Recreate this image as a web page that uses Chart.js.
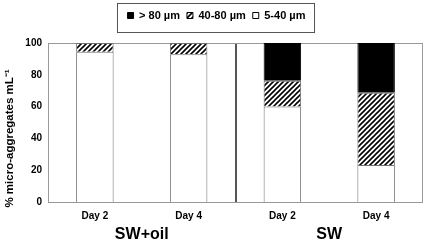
<!DOCTYPE html>
<html lang="en">
<head>
  <meta charset="UTF-8">
  <title>Micro-aggregates</title>
  <style>
    body { margin: 0; padding: 0; background: #ffffff; }
    .chart-container { width: 426px; height: 242px; }
  </style>
</head>
<body>
  <div class="chart-container">
    <canvas id="aggChart" width="426" height="242"></canvas>
  </div>

  <script src="https://cdn.jsdelivr.net/npm/chart.js"></script>
  <script>
    // values (% of micro-aggregates per size class)
    const categories = ['Day 2', 'Day 4', 'Day 2', 'Day 4'];
    const groups = ['SW+oil', 'SW'];
    const size5to40 = [94.5, 93, 60, 23.3];
    const size40to80 = [5.5, 7, 16.3, 45.4];
    const sizeOver80 = [0, 0, 23.7, 31.3];

    const font = 'Liberation Sans, Arial, sans-serif';

    // diagonal hatch pattern for the 40-80 class
    function makeHatch() {
      const s = 5;
      const c = document.createElement('canvas');
      c.width = s; c.height = s;
      const g = c.getContext('2d');
      g.fillStyle = '#ffffff';
      g.fillRect(0, 0, s, s);
      g.strokeStyle = '#000000';
      g.lineWidth = 1.6;
      g.beginPath();
      g.moveTo(0, s); g.lineTo(s, 0);
      g.moveTo(-1, 1); g.lineTo(1, -1);
      g.moveTo(s - 1, s + 1); g.lineTo(s + 1, s - 1);
      g.stroke();
      return g.createPattern(c, 'repeat');
    }
    const hatch = makeHatch();

    const LEGEND_SHIFT = 5;

    // grey frame around the plot area + box around the legend
    const framePlugin = {
      id: 'frame',
      beforeLayout(chart) {
        const lg = chart.legend;
        if (lg && !lg._fixedFit) {
          const orig = lg.fit;
          lg.fit = function () { orig.call(this); this.height = 40; };
          lg._fixedFit = true;
        }
      },
      afterLayout(chart) {
        const lg = chart.legend;
        lg.left += LEGEND_SHIFT;
        lg.right += LEGEND_SHIFT;
        (lg.legendHitBoxes || []).forEach(b => { b.left += LEGEND_SHIFT; });
      },
      beforeDatasetsDraw(chart) {
        const a = chart.chartArea;
        const ctx = chart.ctx;
        ctx.save();
        ctx.strokeStyle = '#999999';
        ctx.lineWidth = 1;
        ctx.strokeRect(a.left + 0.5, a.top + 0.5, a.right - a.left - 1, a.bottom - a.top);
        ctx.restore();
      },
      afterDraw(chart) {
        const boxes = chart.legend.legendHitBoxes;
        if (!boxes || !boxes.length) return;
        let l = Infinity, r = -Infinity;
        boxes.forEach(b => { l = Math.min(l, b.left); r = Math.max(r, b.left + b.width); });
        const ctx = chart.ctx;
        ctx.save();
        ctx.strokeStyle = '#555555';
        ctx.lineWidth = 1;
        ctx.strokeRect(Math.round(l - 11) + 0.5, 3.5, Math.round(r - l + 19), 29);
        ctx.restore();
      }
    };

    new Chart(document.getElementById('aggChart'), {
      type: 'bar',
      data: {
        labels: categories,
        datasets: [
          {
            label: '5-40 µm',
            data: size5to40,
            backgroundColor: '#ffffff',
            borderColor: '#707070',
            borderWidth: 1
          },
          {
            label: '40-80 µm',
            data: size40to80,
            backgroundColor: hatch,
            borderColor: '#707070',
            borderWidth: 1
          },
          {
            label: '> 80 µm',
            data: sizeOver80,
            backgroundColor: '#000000',
            borderColor: '#000000',
            borderWidth: 1
          }
        ]
      },
      options: {
        responsive: false,
        animation: false,
        categoryPercentage: 1,
        barPercentage: 0.4,
        layout: { padding: { top: 3, right: 3, left: 0, bottom: 0 } },
        plugins: {
          tooltip: { enabled: false },
          legend: {
            reverse: true,
            labels: {
              boxWidth: 6,
              boxHeight: 6,
              padding: 7,
              color: '#000000',
              font: { family: font, size: 11, weight: 'bold' },
              generateLabels(chart) {
                const items = Chart.defaults.plugins.legend.labels.generateLabels(chart);
                items.forEach(it => { it.strokeStyle = '#000000'; it.lineWidth = 1; });
                return items;
              }
            }
          }
        },
        scales: {
          x: {
            stacked: true,
            weight: 0,
            grid: { display: false, drawTicks: false },
            border: { display: false },
            ticks: {
              padding: 8,
              color: '#000000',
              font: { family: font, size: 10, weight: 'bold' }
            },
            afterFit(scale) { scale.height = 22; }
          },
          x2: {
            type: 'category',
            position: 'bottom',
            labels: groups,
            offset: true,
            weight: 1,
            grid: {
              display: true,
              offset: true,
              drawTicks: false,
              lineWidth: 2,
              color: ctx => ctx.index === 1 ? '#555555' : 'rgba(0,0,0,0)'
            },
            border: { display: false },
            ticks: {
              padding: 1,
              color: '#000000',
              font: { family: font, size: 16, weight: 'bold' }
            },
            afterFit(scale) { scale.height = 18; }
          },
          y: {
            stacked: true,
            min: 0,
            max: 100,
            grid: { display: false, drawTicks: false },
            border: { display: false },
            ticks: {
              stepSize: 20,
              padding: 6,
              color: '#000000',
              font: { family: font, size: 10, weight: 'bold' }
            },
            title: {
              display: true,
              // trailing spaces push the visible text a little lower, as in the original
              text: '% micro-aggregates mL⁻¹          ',
              color: '#000000',
              padding: { top: 3, bottom: 0 },
              font: { family: font, size: 11.5, weight: 'bold' }
            },
            afterFit(scale) { scale.width = 48; }
          }
        }
      },
      plugins: [framePlugin]
    });
  </script>
</body>
</html>
